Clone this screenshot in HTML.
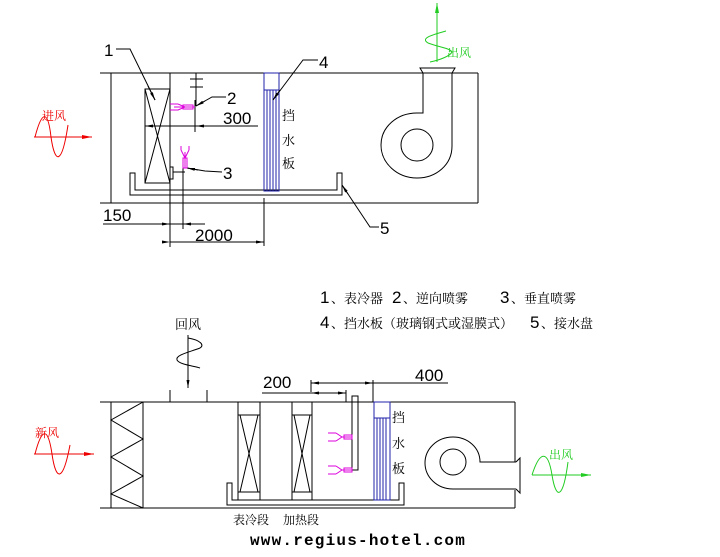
<!DOCTYPE html>
<html><head><meta charset="utf-8"><style>
html,body{margin:0;padding:0;background:#fff;}
svg{display:block;}
text{font-family:"Liberation Sans","Noto Sans CJK SC",sans-serif;}
text.cn,tspan.cn{font-family:"Noto Serif CJK SC","Noto Sans CJK SC",serif;}
text.mono{font-family:"Liberation Mono",monospace;}
</style></head><body>
<svg width="720" height="557" viewBox="0 0 720 557" xmlns="http://www.w3.org/2000/svg">
<defs>
<marker id="ab" markerWidth="8" markerHeight="6" refX="8" refY="3" orient="auto" markerUnits="userSpaceOnUse"><path d="M0,1.5 L8,3 L0,4.5Z" fill="#000"/></marker>
<marker id="ar" markerWidth="10" markerHeight="6" refX="10" refY="3" orient="auto" markerUnits="userSpaceOnUse"><path d="M0,1 L10,3 L0,5Z" fill="#e00"/></marker>
<marker id="ag" markerWidth="10" markerHeight="6" refX="10" refY="3" orient="auto" markerUnits="userSpaceOnUse"><path d="M0,1 L10,3 L0,5Z" fill="#2c2"/></marker>
</defs>
<g stroke="#000" stroke-width="1" fill="none">
<line x1="100" y1="73" x2="478" y2="73"/>
<line x1="100" y1="203" x2="478" y2="203"/>
<line x1="111" y1="73" x2="111" y2="203"/>
<line x1="478" y1="73" x2="478" y2="203"/>
<rect x="145" y="89" width="25" height="94"/>
<line x1="145" y1="89" x2="170" y2="183"/>
<line x1="170" y1="89" x2="145" y2="183"/>
<line x1="170" y1="73" x2="170" y2="247"/>
<line x1="145" y1="126" x2="258" y2="126"/>
<line x1="163" y1="126" x2="145" y2="126" marker-end="url(#ab)"/>
<line x1="205" y1="126" x2="196" y2="126" marker-end="url(#ab)"/>
<line x1="196" y1="73" x2="196" y2="106"/>
<line x1="190" y1="79" x2="203" y2="79"/>
<line x1="190" y1="87" x2="203" y2="87"/>
<line x1="195" y1="100" x2="195" y2="132"/>
<line x1="173" y1="172" x2="185" y2="172"/>
<rect x="170" y="167" width="3" height="12"/>
<line x1="183" y1="168" x2="183" y2="229"/>
<path d="M130,173 V195 H342 V173 H337 V190 H135 V173 Z"/>
<rect x="264" y="73" width="15" height="118" stroke="#22a"/>
<line x1="264" y1="90" x2="279" y2="90" stroke="#22a"/>
<g stroke="#22a"><line x1="267" y1="90" x2="267" y2="191"/><line x1="270" y1="90" x2="270" y2="191"/><line x1="273" y1="90" x2="273" y2="191"/><line x1="276" y1="90" x2="276" y2="191"/></g>
<line x1="264" y1="198" x2="264" y2="246"/>
<line x1="103" y1="224" x2="205" y2="224"/>
<line x1="162" y1="224" x2="170" y2="224" marker-end="url(#ab)"/>
<line x1="193" y1="224" x2="183" y2="224" marker-end="url(#ab)"/>
<line x1="170" y1="242" x2="264" y2="242" marker-start="url(#ab)" marker-end="url(#ab)"/>
<polyline points="116,49 130,49 155,100"/>
<line x1="148" y1="86" x2="155" y2="100" marker-end="url(#ab)"/>
<polyline points="318,60 303,60 273,100"/>
<line x1="280" y1="90" x2="273" y2="100" marker-end="url(#ab)"/>
<polyline points="226,97 212,97 196,106"/>
<line x1="205" y1="101" x2="196" y2="106" marker-end="url(#ab)"/>
<polyline points="222,172 205,171 187,168"/>
<line x1="198" y1="170" x2="187" y2="168" marker-end="url(#ab)"/>
<polyline points="379,227 370,227 342,185"/>
<line x1="348" y1="194" x2="342" y2="185" marker-end="url(#ab)"/>
<path d="M420,68 H455 L452,73 V146 C452,165 436,178 417,178 C397,178 381,163 381,145 C381,127 397,113 417,113 H423 V73 Z"/>
<circle cx="417" cy="145" r="16"/>
<line x1="100" y1="402" x2="515" y2="402"/>
<line x1="100" y1="508" x2="515" y2="508"/>
<line x1="111" y1="402" x2="111" y2="508"/>
<line x1="143" y1="402" x2="143" y2="508"/>
<polyline points="143,402 111,420 143,439 111,457 143,476 111,494 143,508"/>
<line x1="515" y1="402" x2="515" y2="462"/>
<line x1="515" y1="490" x2="515" y2="508"/>
<line x1="170" y1="390" x2="170" y2="402"/>
<line x1="207" y1="390" x2="207" y2="402"/>
<rect x="238" y="402" width="22" height="98"/>
<line x1="238" y1="415" x2="260" y2="415"/><line x1="238" y1="492" x2="260" y2="492"/>
<line x1="240" y1="415" x2="258" y2="492"/><line x1="258" y1="415" x2="240" y2="492"/>
<rect x="292" y="402" width="20" height="98"/>
<line x1="292" y1="415" x2="312" y2="415"/><line x1="292" y1="492" x2="312" y2="492"/>
<line x1="294" y1="415" x2="310" y2="492"/><line x1="310" y1="415" x2="294" y2="492"/>
<path d="M227,483 V505 H404 V483 H399 V500 H232 V483 Z"/>
<rect x="352" y="396" width="6" height="74"/>
<line x1="346" y1="390" x2="346" y2="402"/>
<rect x="374" y="402" width="16" height="98" stroke="#22a"/>
<line x1="374" y1="418" x2="390" y2="418" stroke="#22a"/>
<g stroke="#22a"><line x1="377" y1="418" x2="377" y2="500"/><line x1="380" y1="418" x2="380" y2="500"/><line x1="383" y1="418" x2="383" y2="500"/><line x1="386" y1="418" x2="386" y2="500"/></g>
<line x1="262" y1="393" x2="346" y2="393"/>
<line x1="311" y1="380" x2="311" y2="392"/>
<line x1="373" y1="380" x2="373" y2="402"/>
<line x1="311" y1="383" x2="448" y2="383"/>
<line x1="323" y1="383" x2="311" y2="383" marker-end="url(#ab)"/>
<line x1="362" y1="383" x2="373" y2="383" marker-end="url(#ab)"/>
<line x1="323" y1="393" x2="311" y2="393" marker-end="url(#ab)"/>
<line x1="336" y1="393" x2="346" y2="393" marker-end="url(#ab)"/>
<path d="M516,462 H480 C480,447 467,437 453,437 C437,437 425,449 425,463 C425,477 437,489 453,489 H516"/>
<path d="M516,462 L520,458 V493 L516,489"/>
<circle cx="453" cy="462" r="13"/>
<path d="M188,335 V388" marker-end="url(#ab)"/>
<path d="M188,338 C200,340 205,345 200,348 C190,352 175,355 177,360 C180,365 195,366 200,368"/>
</g>
<g stroke="#d0d" fill="none">
<path d="M195,107 L185,107 L178,104 M185,107 L178,110 M178,104 H170 M178,110 H170 M185,107 H174"/>
<rect x="183" y="105" width="10" height="4"/>
<path d="M185,168 V152 M185,158 L181,150 M185,158 L189,150 M181,150 V146 M189,150 V146"/>
<rect x="183" y="158" width="4" height="10"/>
<path d="M352,437 H342 L336,433 M342,437 L336,441 M336,433 H328 M336,441 H328"/>
<rect x="344" y="435" width="8" height="4"/>
<path d="M352,470 H342 L336,466 M342,470 L336,474 M336,466 H328 M336,474 H328"/>
<rect x="344" y="468" width="8" height="4"/>
</g>
<g stroke="#e00" fill="none">
<path d="M35,137 C42,110 48,110 51,137 C55,165 62,165 68,125"/>
<line x1="34" y1="137" x2="92" y2="137" marker-end="url(#ar)"/>
<path d="M35,454 C42,427 48,427 52,454 C56,482 63,482 70,445"/>
<line x1="34" y1="454" x2="94" y2="454" marker-end="url(#ar)"/>
</g>
<g stroke="#2c2" fill="none">
<line x1="437" y1="62" x2="437" y2="3" marker-end="url(#ag)"/>
<path d="M446,31 C432,35 420,38 428,43 C438,47 450,48 452,52 C450,56 440,60 430,62"/>
<path d="M532,475 C540,450 548,450 552,475 C556,500 563,500 568,462"/>
<line x1="532" y1="475" x2="591" y2="475" marker-end="url(#ag)"/>
</g>
<g font-size="17" fill="#000">
<text x="104" y="56">1</text>
<text x="319" y="68">4</text>
<text x="227" y="104">2</text>
<text x="223" y="179">3</text>
<text x="380" y="234">5</text>
<text x="223" y="124">300</text>
<text x="103" y="221">150</text>
<text x="195" y="241">2000</text>
<text x="263" y="388">200</text>
<text x="415" y="381">400</text>
</g>
<g font-size="13" fill="#000">
<text class="cn" x="282" y="120">挡</text><text class="cn" x="282" y="145">水</text><text class="cn" x="282" y="168">板</text>
<text class="cn" x="392" y="422">挡</text><text class="cn" x="392" y="448">水</text><text class="cn" x="392" y="473">板</text>
<text class="cn" x="175" y="329">回风</text>
<text class="cn" x="233" y="524" font-size="12">表冷段</text>
<text class="cn" x="283" y="524" font-size="12">加热段</text>
</g>
<g font-size="12" fill="#e00"><text class="cn" x="42" y="120">进风</text><text class="cn" x="35" y="437">新风</text></g>
<g font-size="12" fill="#2c2"><text class="cn" x="447" y="57">出风</text><text class="cn" x="549" y="459">出风</text></g>
<g font-size="17" fill="#000">
<text x="320" y="303">1</text><text class="cn" x="331" y="303" font-size="13">、表冷器</text>
<text x="392" y="303">2</text><text class="cn" x="403" y="303" font-size="13">、逆向喷雾</text>
<text x="500" y="303">3</text><text class="cn" x="511" y="303" font-size="13">、垂直喷雾</text>
<text x="320" y="328">4</text><text class="cn" x="331" y="328" font-size="13">、挡水板（玻璃钢式或湿膜式）</text>
<text x="530" y="328">5</text><text class="cn" x="541" y="328" font-size="13">、接水盘</text>
</g>
<text class="mono" x="250" y="545" font-weight="bold" font-size="16" letter-spacing="1.2" fill="#000">www.regius-hotel.com</text>
</svg>
</body></html>
